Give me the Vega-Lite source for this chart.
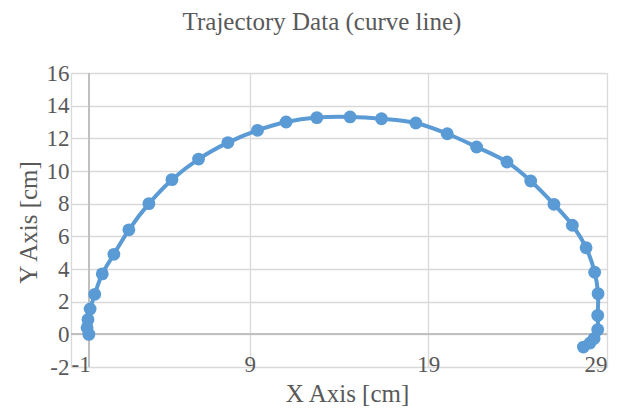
{
  "$schema": "https://vega.github.io/schema/vega-lite/v6.json",
  "autosize": "none",
  "width": 536,
  "height": 294,
  "padding": {"left": 71, "top": 73, "right": 28, "bottom": 42},
  "background": "white",
  "title": {"text": "Trajectory Data (curve line)", "font": "Liberation Serif", "fontSize": 25, "fontWeight": "normal", "color": "#595959", "offset": 27, "dx": -17},
  "config": {"view": {"stroke": null}, "axis": {"labelFont": "Liberation Serif", "titleFont": "Liberation Serif", "labelFontSize": 23, "labelColor": "#595959"}},
  "data": {"values": [
    {"i": 1, "x": 0.0, "y": 0.0},
    {"i": 2, "x": -0.1, "y": 0.4},
    {"i": 3, "x": -0.05, "y": 0.9},
    {"i": 4, "x": 0.07, "y": 1.55},
    {"i": 5, "x": 0.33, "y": 2.45},
    {"i": 6, "x": 0.75, "y": 3.7},
    {"i": 7, "x": 1.4, "y": 4.9},
    {"i": 8, "x": 2.24, "y": 6.4},
    {"i": 9, "x": 3.36, "y": 8.0},
    {"i": 10, "x": 4.65, "y": 9.47},
    {"i": 11, "x": 6.14, "y": 10.73},
    {"i": 12, "x": 7.78, "y": 11.74},
    {"i": 13, "x": 9.44, "y": 12.49},
    {"i": 14, "x": 11.04, "y": 13.0},
    {"i": 15, "x": 12.76, "y": 13.27},
    {"i": 16, "x": 14.62, "y": 13.31},
    {"i": 17, "x": 16.38, "y": 13.2},
    {"i": 18, "x": 18.3, "y": 12.94},
    {"i": 19, "x": 20.06, "y": 12.28},
    {"i": 20, "x": 21.7, "y": 11.47},
    {"i": 21, "x": 23.4, "y": 10.55},
    {"i": 22, "x": 24.73, "y": 9.39},
    {"i": 23, "x": 26.03, "y": 7.96},
    {"i": 24, "x": 27.06, "y": 6.68},
    {"i": 25, "x": 27.83, "y": 5.3},
    {"i": 26, "x": 28.31, "y": 3.8},
    {"i": 27, "x": 28.5, "y": 2.49},
    {"i": 28, "x": 28.48, "y": 1.16},
    {"i": 29, "x": 28.48, "y": 0.29},
    {"i": 30, "x": 28.28, "y": -0.26},
    {"i": 31, "x": 28.05, "y": -0.53},
    {"i": 32, "x": 27.68, "y": -0.78}
  ]},
  "encoding": {
    "x": {"field": "x", "type": "quantitative", "scale": {"domain": [-1, 29], "nice": false, "zero": false},
      "axis": {"title": "X Axis [cm]", "values": [-1, 9, 19, 29], "labelExpr": "'' + datum.value", "domain": false, "ticks": false, "gridColor": "#d9d9d9", "gridWidth": 1.3,
        "labelFont": "Liberation Serif", "labelFontSize": 23, "labelColor": "#595959", "labelBaseline": "alphabetic", "labelPadding": 4,
        "titleFont": "Liberation Serif", "titleFontSize": 25, "titleFontWeight": "normal", "titleColor": "#595959", "titleX": 276, "titleY": 34, "titleBaseline": "alphabetic"}},
    "y": {"field": "y", "type": "quantitative", "scale": {"domain": [-2, 16], "nice": false, "zero": false},
      "axis": {"title": "Y Axis [cm]", "values": [-2, 0, 2, 4, 6, 8, 10, 12, 14, 16], "labelExpr": "'' + datum.value", "domain": false, "ticks": false, "gridColor": "#d9d9d9", "gridWidth": 1.3,
        "labelFont": "Liberation Serif", "labelFontSize": 23, "labelColor": "#595959", "labelPadding": 2,
        "titleFont": "Liberation Serif", "titleFontSize": 25, "titleFontWeight": "normal", "titleColor": "#595959", "titleX": -43, "titleY": 149, "titleBaseline": "middle", "titleAngle": 270}}
  },
  "layer": [
    {"mark": {"type": "rule", "color": "#bfbfbf", "strokeWidth": 1.5}, "encoding": {"x": {"datum": 0}, "y": null}},
    {"mark": {"type": "rule", "color": "#bfbfbf", "strokeWidth": 1.5}, "encoding": {"y": {"datum": 0}, "x": null}},
    {"mark": {"type": "line", "interpolate": "catmull-rom", "color": "#5B9BD5", "strokeWidth": 4}, "encoding": {"order": {"field": "i", "type": "quantitative"}}},
    {"mark": {"type": "point", "filled": true, "opacity": 1, "size": 165, "color": "#5B9BD5"}}
  ]
}
